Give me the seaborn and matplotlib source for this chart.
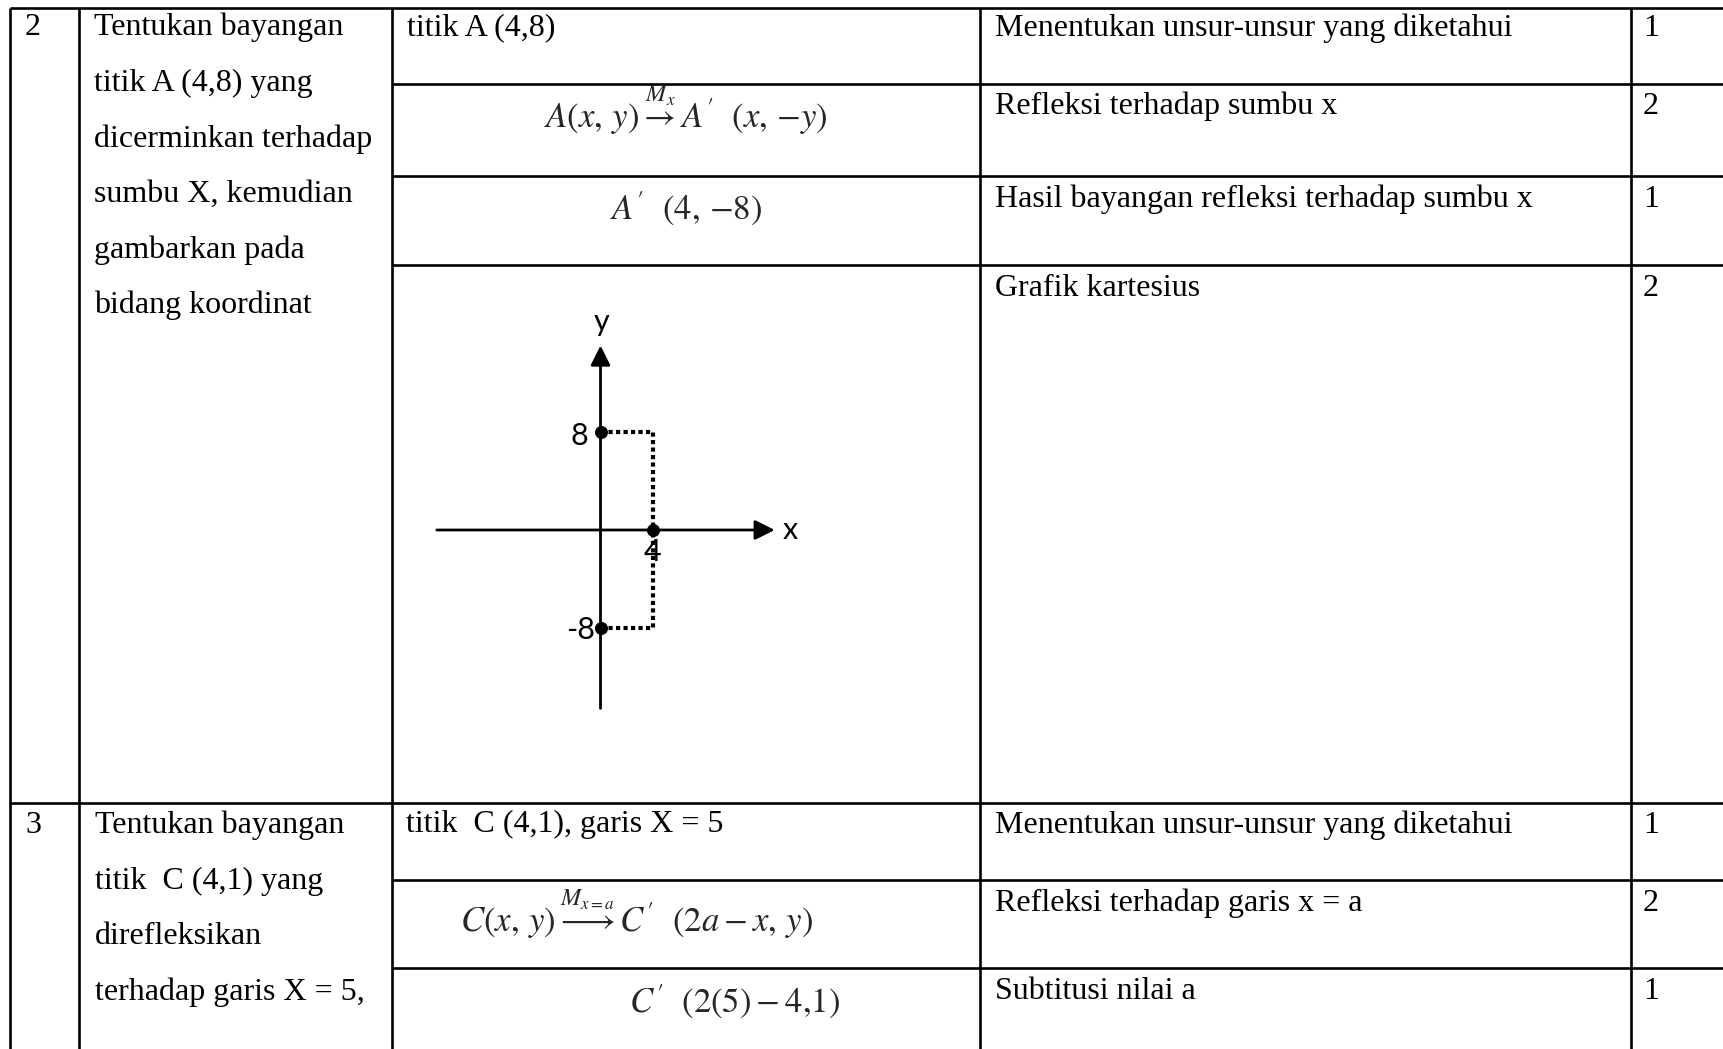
import matplotlib.pyplot as plt
import seaborn as sns

# table content
numbers = ['2', '3']
question_2 = ['Tentukan bayangan', 'titik A (4,8) yang', 'dicerminkan terhadap',
              'sumbu X, kemudian', 'gambarkan pada', 'bidang koordinat']
question_3 = ['Tentukan bayangan', 'titik  C (4,1) yang', 'direfleksikan',
              'terhadap garis X = 5,']
steps_2 = ['titik A (4,8)',
           r'$A(x,\,y)\overset{M_x}{\rightarrow}A^{\prime}\ \ (x,\,{-}y)$',
           r'$A^{\prime}\ \ (4,\,{-}8)$']
steps_3 = ['titik  C (4,1), garis X = 5',
           r'$C(x,\,y)\overset{M_{x=a}}{\longrightarrow}C^{\prime}\ \ (2a-x,\,y)$',
           r'$C^{\prime}\ \ (2(5)-4{,}1)$']
notes_2 = ['Menentukan unsur-unsur yang diketahui', 'Refleksi terhadap sumbu x',
           'Hasil bayangan refleksi terhadap sumbu x', 'Grafik kartesius']
notes_3 = ['Menentukan unsur-unsur yang diketahui', 'Refleksi terhadap garis x = a',
           'Subtitusi nilai a']
scores_2 = ['1', '2', '1', '2']
scores_3 = ['1', '2', '1']

# cartesian sketch
point_x = [0, 4, 0]
point_y = [8, 0, -8]
point_labels = ['8', '4', '-8']
guide_top_x = [0, 4, 4]
guide_top_y = [8, 8, 0]
guide_bot_x = [0, 4, 4]
guide_bot_y = [-8, -8, 0]

sns.set_theme(style='white')
plt.rcParams['font.family'] = ['Liberation Serif', 'DejaVu Serif']
plt.rcParams['mathtext.fontset'] = 'stix'

W, H = 1724, 1049
fig = plt.figure(figsize=(W / 100, H / 100), dpi=100)
ax = fig.add_axes([0, 0, 1, 1])
ax.set_xlim(0, W)
ax.set_ylim(H, 0)
ax.axis('off')

lw = 1.9
cols = [10, 79, 392, 980, 1631]
ax.vlines(cols, 8, H, color='black', lw=lw)
ax.hlines([8, 803], 10, W, color='black', lw=lw)
ax.hlines([84, 176, 265, 880, 968], 392, W, color='black', lw=lw)

fs = 23
txt = dict(fontsize=fs, color='black', va='baseline')

# row 2
ax.text(25, 35, numbers[0], **txt)
for i, line in enumerate(question_2):
    ax.text(94, 35.5 + 55.6 * i, line, **txt)
ax.text(407, 35, steps_2[0], **txt)
ax.text(686, 128, steps_2[1], ha='center', fontsize=25, va='baseline')
ax.text(686, 220, steps_2[2], ha='center', fontsize=25, va='baseline')
for y, s, n in zip([36, 114, 207, 296], notes_2, scores_2):
    ax.text(995, y, s, **txt)
    ax.text(1643, y, n, **txt)

# row 3
ax.text(25, 833, numbers[1], **txt)
for i, line in enumerate(question_3):
    ax.text(95, 833 + 55.7 * i, line, **txt)
ax.text(406, 832, steps_3[0], **txt)
ax.text(460, 932, steps_3[1], fontsize=25, va='baseline')
ax.text(629, 1013, steps_3[2], fontsize=25, va='baseline')
for y, s, n in zip([833, 911, 999], notes_3, scores_3):
    ax.text(995, y, s, **txt)
    ax.text(1643, y, n, **txt)

# inset for the cartesian sketch (origin at px 600.5, 530)
ox, oy, sx, sy = 600.5, 530, 13.1, 12.3
x0, x1, y0, y1 = -14, 16, -17, 19
left = (ox + x0 * sx) / W
bottom = 1 - (oy - y0 * sy) / H
ax2 = fig.add_axes([left, bottom, (x1 - x0) * sx / W, (y1 - y0) * sy / H])
ax2.set_xlim(x0, x1)
ax2.set_ylim(y0, y1)
ax2.axis('off')

arrow = dict(arrowstyle='-|>', color='black', lw=2, mutation_scale=30,
             shrinkA=0, shrinkB=0)
ax2.annotate('', xy=(13.3, 0), xytext=(-12.5, 0), arrowprops=arrow)
ax2.annotate('', xy=(0, 15.0), xytext=(0, -14.5), arrowprops=arrow)

dot = (0, (1, 0.8))
ax2.plot(guide_top_x, guide_top_y, color='black', lw=3, linestyle=dot,
         dash_capstyle='butt')
ax2.plot(guide_bot_x, guide_bot_y, color='black', lw=3, linestyle=dot,
         dash_capstyle='butt')
sns.scatterplot(x=point_x, y=point_y, ax=ax2, color='black', s=75,
                edgecolor='black', zorder=5, legend=False)

lab = dict(fontsize=22, family=['Lato', 'DejaVu Sans'], color='black',
           ha='center', va='center', textcoords='offset points')
offsets = [(-15, -3), (0, -16), (-14, -1)]
for px, py, t, off in zip(point_x, point_y, point_labels, offsets):
    ax2.annotate(t, (px, py), xytext=off, **lab)
ax2.annotate('y', (0, 15.0), xytext=(1, 17), **lab)
ax2.annotate('x', (13.3, 0), xytext=(11, 0), **lab)

fig.savefig('out.png', dpi=100)
